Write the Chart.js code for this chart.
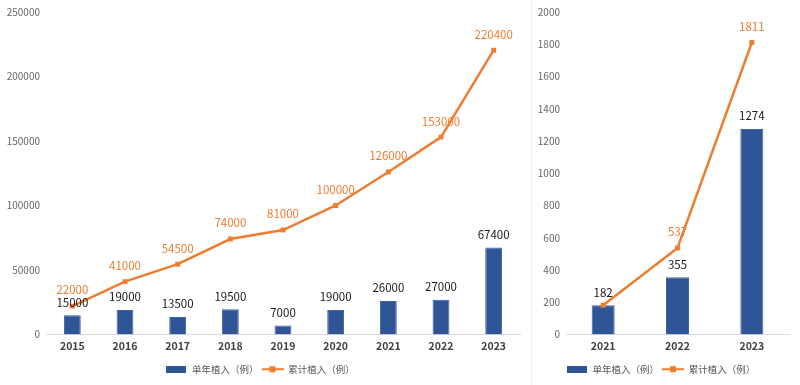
<!DOCTYPE html>
<html lang="zh">
<head>
  <meta charset="UTF-8">
  <title>植入例数</title>
  <script src="https://cdn.jsdelivr.net/npm/chart.js"></script>
  <style>
    body { margin: 0; background: #fff; }
    #wrap { position: relative; width: 800px; height: 385px; }
    #leftBox { position: absolute; left: 0; top: 0; }
    #rightBox { position: absolute; left: 532px; top: 0; }
    #divider { position: absolute; left: 531px; top: 0; width: 1px; height: 385px; background: #efefef; }
  </style>
</head>
<body>
<div id="wrap">
  <div id="leftBox"><canvas id="leftChart" width="531" height="385"></canvas></div>
  <div id="divider"></div>
  <div id="rightBox"><canvas id="rightChart" width="268" height="385"></canvas></div>
</div>

<script>
  // 数据
  const yearsAll = ['2015', '2016', '2017', '2018', '2019', '2020', '2021', '2022', '2023'];
  const singleAll = [15000, 19000, 13500, 19500, 7000, 19000, 26000, 27000, 67400];
  const totalAll = [22000, 41000, 54500, 74000, 81000, 100000, 126000, 153000, 220400];

  const yearsRecent = ['2021', '2022', '2023'];
  const singleRecent = [182, 355, 1274];
  const totalRecent = [182, 537, 1811];

  const barName = '单年植入（例）';
  const lineName = '累计植入（例）';

  const BLUE = '#2F5597';
  const ORANGE = '#ED7D31';

  Chart.defaults.font.family = "'Noto Sans CJK SC', 'Noto Sans', sans-serif";
  Chart.defaults.animation = false;

  // 图例小图标
  function barIcon() {
    const c = document.createElement('canvas');
    c.width = 20; c.height = 7;
    const g = c.getContext('2d');
    g.fillStyle = BLUE;
    g.fillRect(0, 0, 20, 7);
    return c;
  }
  function lineIcon() {
    const c = document.createElement('canvas');
    c.width = 22; c.height = 8;
    const g = c.getContext('2d');
    g.fillStyle = ORANGE;
    g.fillRect(0, 3, 22, 2);
    g.fillRect(8, 1, 6, 6);
    return c;
  }

  // 数值标签（折线值与柱值相同时只标一次）
  const valueLabels = {
    id: 'valueLabels',
    afterDatasetsDraw(chart) {
      const ctx = chart.ctx;
      const barData = chart.data.datasets[0].data;
      chart.data.datasets.forEach((ds, i) => {
        const meta = chart.getDatasetMeta(i);
        const isLine = ds.type === 'line';
        ctx.save();
        ctx.font = "11.5px 'Noto Sans CJK SC', 'Noto Sans', sans-serif";
        ctx.fillStyle = isLine ? ORANGE : '#1a1a1a';
        ctx.textAlign = 'center';
        ctx.textBaseline = 'middle';
        meta.data.forEach((el, j) => {
          if (isLine && ds.data[j] === barData[j]) return;
          ctx.fillText(ds.data[j], el.x, el.y - (isLine ? 16 : 13));
        });
        ctx.restore();
      });
    }
  };

  function makeChart(id, labels, bars, line, yMax, yStep, yWidth, barPct) {
    return new Chart(document.getElementById(id), {
      type: 'bar',
      data: {
        labels: labels,
        datasets: [{
          type: 'bar',
          label: barName,
          data: bars,
          backgroundColor: BLUE,
          borderColor: '#3d63a8',
          borderWidth: 1,
          barPercentage: barPct,
          categoryPercentage: 1,
          order: 1
        }, {
          type: 'line',
          label: lineName,
          data: line,
          borderColor: ORANGE,
          backgroundColor: ORANGE,
          borderWidth: 2.5,
          pointStyle: 'rect',
          pointRadius: 3.5,
          pointBorderWidth: 0,
          tension: 0,
          order: 0
        }]
      },
      options: {
        responsive: false,
        layout: { padding: { top: 11, right: 11, left: 0, bottom: 1 } },
        plugins: {
          tooltip: { enabled: false },
          legend: {
            position: 'bottom',
            labels: {
              usePointStyle: true,
              pointStyleWidth: 22,
              padding: 3,
              color: '#595959',
              font: { size: 9.5 },
              generateLabels: () => [
                { text: barName, pointStyle: barIcon(), fontColor: '#595959', datasetIndex: 0, lineWidth: 0 },
                { text: lineName, pointStyle: lineIcon(), fontColor: '#595959', datasetIndex: 1, lineWidth: 0 }
              ]
            }
          }
        },
        scales: {
          x: {
            grid: { display: false, drawTicks: false },
            border: { display: true, color: '#d9d9d9', width: 1 },
            ticks: { color: '#404040', font: { size: 10.5, weight: 'bold' }, padding: 5 },
            afterFit: s => { s.height = 27; }
          },
          y: {
            min: 0,
            max: yMax,
            grid: { display: false, drawTicks: false },
            border: { display: false },
            ticks: { stepSize: yStep, color: '#666666', font: { size: 10 }, padding: 6, callback: v => String(v) },
            afterFit: s => { s.width = yWidth; }
          }
        }
      },
      plugins: [valueLabels]
    });
  }

  makeChart('leftChart', yearsAll, singleAll, totalAll, 250000, 50000, 46, 0.32);
  makeChart('rightChart', yearsRecent, singleRecent, totalRecent, 2000, 200, 34, 0.31);
</script>
</body>
</html>
